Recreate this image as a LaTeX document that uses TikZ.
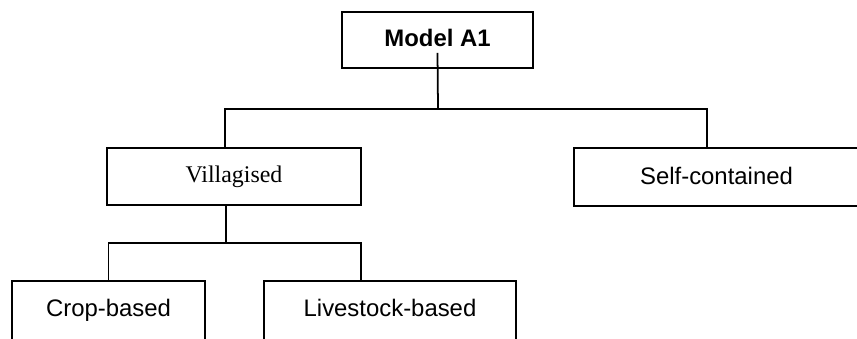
\documentclass[tikz,border=0pt]{standalone}
\usepackage{fontspec}
\setmainfont{Liberation Sans}
\newfontfamily\serifface{Liberation Serif}

\begin{document}
\begin{tikzpicture}[x=0.02cm, y=-0.02cm, line width=1pt, font=\fontsize{13.6}{16}\selectfont, box/.style={draw, rectangle, inner sep=0pt}]

\path[use as bounding box, clip] (0,0) rectangle (857,338);

\node[box, minimum width=3.82cm, minimum height=1.12cm] (model) at (437.5,40) {\raisebox{0.1cm}{\bfseries Model A1}};
\node[box, minimum width=5.08cm, minimum height=1.14cm] (vill) at (234,176.5) {\raisebox{0.06cm}{\serifface Villagised}};
\node[box, minimum width=5.7cm, minimum height=1.16cm] (self) at (716.5,177) {\raisebox{0.06cm}{Self-contained}};
\node[box, minimum width=3.86cm, minimum height=1.2cm] (crop) at (108.5,311) {\raisebox{0.12cm}{Crop-based}};
\node[box, minimum width=5.04cm, minimum height=1.2cm] (live) at (390,311) {\raisebox{0.12cm}{Livestock-based}};

\coordinate (split) at (438,109);
\coordinate (splitlow) at (226,243);

\draw ([yshift=0.32cm]model.south) -- (split);
\draw ([xshift=-0.18cm]vill.north) |- (split) -| ([xshift=-0.19cm]self.north);

\draw ([xshift=-0.16cm]vill.south) -- (splitlow);
\draw (crop.north) |- (splitlow) -| ([xshift=-0.58cm]live.north);

\end{tikzpicture}
\end{document}
